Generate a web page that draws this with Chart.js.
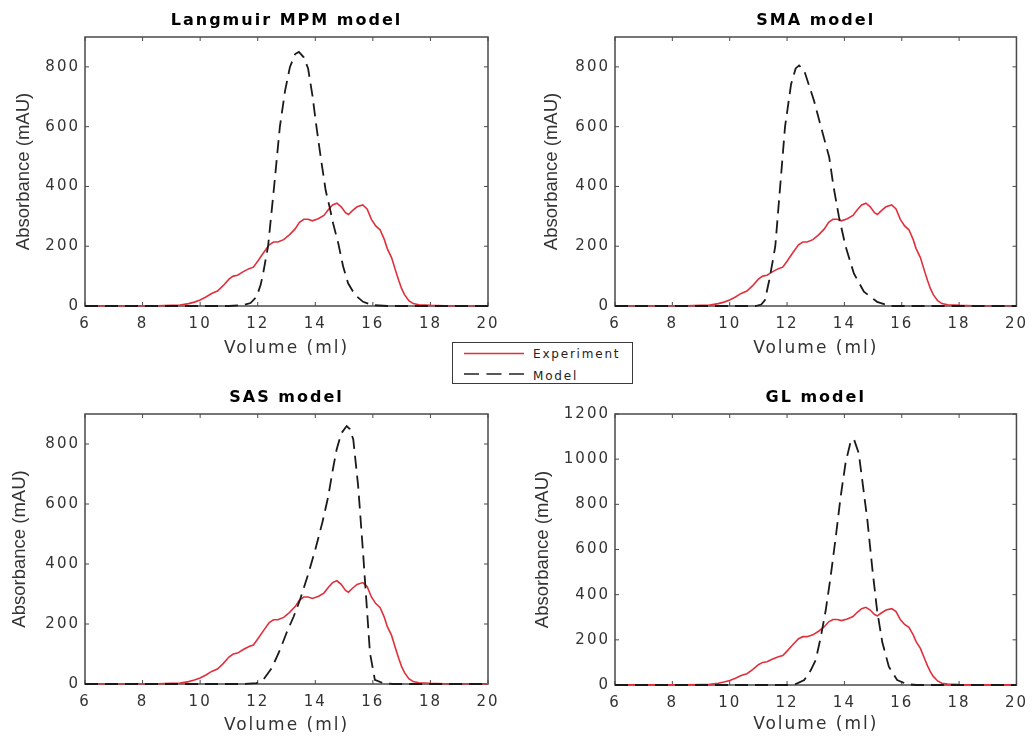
<!DOCTYPE html>
<html>
<head>
<meta charset="utf-8">
<script src="https://cdn.jsdelivr.net/npm/chart.js@4.4.0/dist/chart.umd.min.js"></script>
<style>
  body { margin: 0; background: #fff; }
  #fig { position: relative; width: 1035px; height: 740px; overflow: hidden; background: #fff; }
  #fig canvas { position: absolute; }
  #key {
    position: absolute; left: 452px; top: 342px; width: 179px; height: 40px;
    border: 1.5px solid #3a3a3a; background: #fff;
    font: 12px 'DejaVu Sans', sans-serif; letter-spacing: 1.8px; color: #222;
  }
  #key svg { position: absolute; left: 10px; }
  #key span { position: absolute; left: 80px; line-height: 14px; }
</style>
</head>
<body>
<div id="fig">
  <canvas id="c1" width="517" height="370" style="left:0;top:0"></canvas>
  <canvas id="c2" width="518" height="370" style="left:517px;top:0"></canvas>
  <canvas id="c3" width="517" height="370" style="left:0;top:370px"></canvas>
  <canvas id="c4" width="518" height="370" style="left:517px;top:370px"></canvas>
  <div id="key">
    <svg width="62" height="40" style="top:0">
      <line x1="1" y1="10.5" x2="61" y2="10.5" stroke="#e0303c" stroke-width="1.6"/>
      <line x1="1" y1="31" x2="61" y2="31" stroke="#222" stroke-width="1.6" stroke-dasharray="15 7.5"/>
    </svg>
    <span style="top:4px">Experiment</span>
    <span style="top:26px">Model</span>
  </div>
</div>
<script>
// measured elution profile (same run in every panel)
const expVolume = [6.0, 6.5, 7.0, 7.5, 8.0, 8.5, 9.0, 9.3, 9.6, 9.8, 10.0, 10.2, 10.4, 10.6, 10.8,
  11.0, 11.15, 11.3, 11.5, 11.7, 11.85, 12.0, 12.2, 12.4, 12.55, 12.7, 12.9, 13.1, 13.3, 13.45,
  13.6, 13.75, 13.9, 14.1, 14.3, 14.45, 14.6, 14.75, 14.9, 15.05, 15.15, 15.3, 15.45, 15.65, 15.8,
  15.95, 16.1, 16.25, 16.4, 16.5, 16.65, 16.8, 16.9, 17.0, 17.1, 17.25, 17.4, 17.6, 18.0, 18.5, 19.0, 20.0];
const expAbs = [1, 1, 1, 1, 1, 1, 2, 3, 8, 13, 20, 30, 42, 50, 68,
  90, 100, 103, 115, 125, 130, 150, 178, 205, 214, 214, 222, 238, 258, 280,
  290, 290, 285, 292, 303, 322, 338, 344, 332, 312, 306, 320, 332, 338, 325,
  290, 268, 255, 222, 192, 162, 115, 85, 58, 38, 18, 8, 4, 2, 1, 1, 1];

// simulated profiles, one per isotherm model
const mpmVolume = [6.0, 11.0, 11.5, 11.75, 11.96, 12.1, 12.19, 12.36, 12.56, 12.77, 12.95, 13.12, 13.3, 13.43,
  13.6, 13.75, 13.9, 14.04, 14.2, 14.36, 14.5, 14.62, 14.8, 14.97, 15.14, 15.38, 15.66, 16.0, 16.5, 20.0];
const mpmAbs = [0, 0, 3, 10, 31, 70, 110, 200, 390, 600, 720, 800, 843, 850,
  832, 795, 705, 600, 490, 387, 330, 276, 209, 131, 76, 37, 14, 3, 0, 0];

const smaVolume = [6.0, 10.9, 11.1, 11.23, 11.38, 11.5, 11.59, 11.76, 11.93, 12.14, 12.3, 12.42, 12.6, 12.94,
  13.18, 13.47, 13.62, 13.81, 14.04, 14.33, 14.68, 15.14, 15.6, 20.0];
const smaAbs = [0, 0, 5, 20, 87, 150, 200, 400, 600, 742, 795, 805, 787, 687,
  600, 498, 400, 298, 200, 109, 48, 14, 0, 0];

const sasVolume = [6.0, 11.5, 11.96, 12.2, 12.5, 12.8, 13.0, 13.25, 13.47, 13.75, 14.0, 14.25, 14.45, 14.6,
  14.74, 14.9, 15.09, 15.2, 15.32, 15.49, 15.66, 15.78, 15.9, 16.07, 16.36, 16.7, 20.0];
const sasAbs = [0, 0, 3, 15, 55, 120, 170, 225, 281, 365, 448, 540, 625, 710,
  781, 835, 860, 850, 815, 659, 437, 270, 103, 14, 3, 0, 0];

const glVolume = [6.0, 12.0, 12.3, 12.6, 12.83, 13.0, 13.18, 13.35, 13.52, 13.7, 13.87, 14.04, 14.22, 14.33,
  14.5, 14.62, 14.8, 14.97, 15.14, 15.32, 15.55, 15.84, 16.18, 16.5, 20.0];
const glAbs = [0, 0, 4, 22, 66, 111, 214, 332, 480, 657, 835, 983, 1079, 1089,
  1027, 909, 731, 520, 330, 190, 81, 22, 4, 0, 0];

const volumeTicks = [6, 8, 10, 12, 14, 16, 18, 20];
const absTicks = [0, 200, 400, 600, 800];
const absTicksGL = [0, 200, 400, 600, 800, 1000, 1200];

const toPoints = (xs, ys) => xs.map((v, i) => ({ x: v, y: ys[i] }));

// wide spacing for horizontal text; the rotated y title keeps normal spacing
const spacing = {
  id: 'spacing',
  beforeDraw(chart) {
    chart.ctx.letterSpacing = '2px';
    const ys = chart.scales.y;
    if (!ys._plainTitle) {
      const orig = ys.drawTitle.bind(ys);
      ys.drawTitle = function () {
        const c = this.ctx;
        const prev = c.letterSpacing;
        c.letterSpacing = '0px';
        orig();
        c.letterSpacing = prev;
      };
      ys._plainTitle = true;
    }
  }
};

// closed box with inward tick marks on all four sides
const axesBox = {
  id: 'axesBox',
  beforeDatasetsDraw(chart) {
    const { ctx, chartArea: a, scales: { x, y } } = chart;
    const len = 4;
    ctx.save();
    ctx.strokeStyle = '#4a4a4a';
    ctx.lineWidth = 1.5;
    ctx.strokeRect(a.left, a.top, a.right - a.left, a.bottom - a.top);
    ctx.lineWidth = 1;
    ctx.beginPath();
    x.ticks.forEach(t => {
      const px = x.getPixelForValue(t.value);
      ctx.moveTo(px, a.bottom); ctx.lineTo(px, a.bottom - len);
      ctx.moveTo(px, a.top); ctx.lineTo(px, a.top + len);
    });
    y.ticks.forEach(t => {
      const py = y.getPixelForValue(t.value);
      ctx.moveTo(a.left, py); ctx.lineTo(a.left + len, py);
      ctx.moveTo(a.right, py); ctx.lineTo(a.right - len, py);
    });
    ctx.stroke();
    ctx.restore();
  }
};

function panel(id, title, modelVol, modelAbs, yMax, yTicks, g) {
  const canvas = document.getElementById(id);
  const titleLH = 16 * 1.2, xLH = 17 * 1.2, yLH = 18.5 * 1.2;
  return new Chart(canvas, {
    type: 'line',
    data: {
      datasets: [
        {
          label: 'Experiment',
          data: toPoints(expVolume, expAbs),
          borderColor: '#e0303c',
          borderWidth: 1.6,
          order: 1
        },
        {
          label: 'Model',
          data: toPoints(modelVol, modelAbs),
          borderColor: '#1a1a1a',
          borderWidth: 1.8,
          borderDash: [13, 7],
          order: 0
        }
      ]
    },
    options: {
      responsive: false,
      animation: false,
      events: [],
      elements: { point: { radius: 0 }, line: { tension: 0 } },
      datasets: { line: { clip: false } },
      layout: { padding: { left: 0, top: 0, bottom: 0, right: canvas.width - g.R } },
      plugins: {
        legend: { display: false },
        tooltip: { enabled: false },
        title: {
          display: true,
          text: title,
          fullSize: false,
          color: '#000',
          font: { family: 'DejaVu Sans', size: 16, weight: 'bold' },
          padding: { top: g.titleY - titleLH / 2, bottom: g.T - g.titleY - titleLH / 2 }
        }
      },
      scales: {
        x: {
          type: 'linear',
          min: 6,
          max: 20,
          afterBuildTicks: s => { s.ticks = volumeTicks.map(v => ({ value: v })); },
          afterFit: s => { s.height = canvas.height - g.B; },
          grid: { display: false, drawTicks: false },
          border: { display: false },
          ticks: {
            color: '#333',
            font: { family: 'DejaVu Sans', size: 15 },
            padding: 9,
            maxRotation: 0,
            autoSkip: false,
            callback: v => String(v)
          },
          title: {
            display: true,
            text: 'Volume (ml)',
            color: '#333',
            font: { family: 'DejaVu Sans', size: 17 },
            padding: { top: 0, bottom: canvas.height - g.xTitleY - xLH / 2 }
          }
        },
        y: {
          type: 'linear',
          min: 0,
          max: yMax,
          afterBuildTicks: s => { s.ticks = yTicks.map(v => ({ value: v })); },
          afterFit: s => { s.width = g.L; },
          grid: { display: false, drawTicks: false },
          border: { display: false },
          ticks: {
            color: '#333',
            font: { family: 'DejaVu Sans', size: 15 },
            padding: 5,
            autoSkip: false,
            callback: v => String(v)
          },
          title: {
            display: true,
            text: 'Absorbance (mAU)',
            color: '#333',
            font: { family: 'Liberation Sans', size: 18.5 },
            padding: { top: g.yTitleX - yLH / 2, bottom: 0 }
          }
        }
      }
    },
    plugins: [spacing, axesBox]
  });
}

panel('c1', 'Langmuir MPM model', mpmVolume, mpmAbs, 900, absTicks,
  { L: 85, R: 488, T: 37, B: 306, titleY: 20.5, xTitleY: 348.5, yTitleX: 24 });
panel('c2', 'SMA model', smaVolume, smaAbs, 900, absTicks,
  { L: 98, R: 501, T: 37, B: 306, titleY: 20.5, xTitleY: 349, yTitleX: 34.5 });
panel('c3', 'SAS model', sasVolume, sasAbs, 900, absTicks,
  { L: 85, R: 488, T: 44, B: 314, titleY: 28.3, xTitleY: 356, yTitleX: 19.5 });
panel('c4', 'GL model', glVolume, glAbs, 1200, absTicksGL,
  { L: 98, R: 501, T: 44, B: 315, titleY: 27.5, xTitleY: 355, yTitleX: 26 });
</script>
</body>
</html>
